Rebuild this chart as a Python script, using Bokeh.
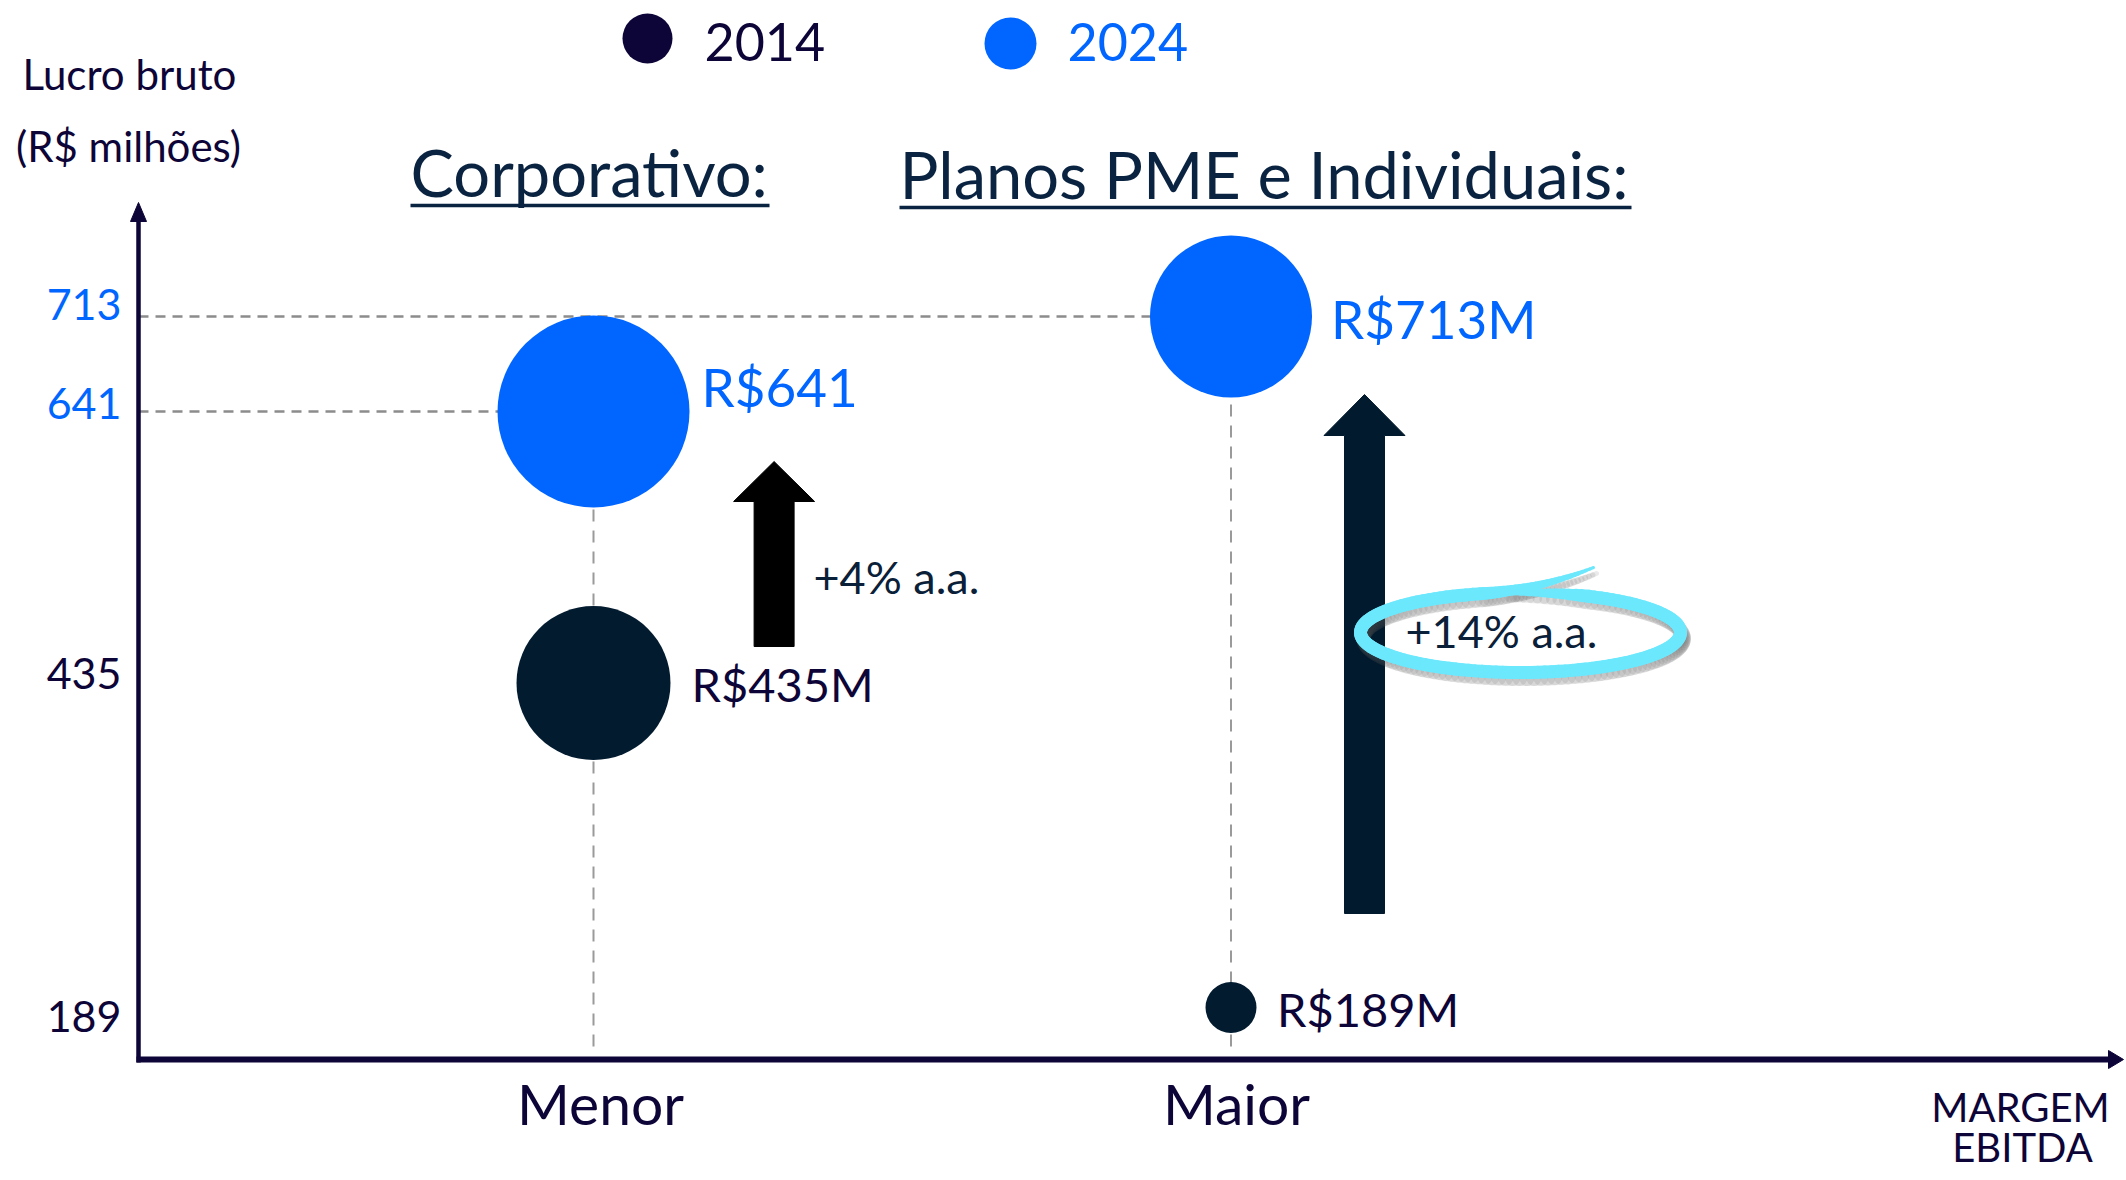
import numpy as np
from bokeh.plotting import figure
from bokeh.models import Range1d, Label
from bokeh.core.properties import value
from bokeh.embed import file_html
from bokeh.resources import INLINE

# ---------------- data ----------------
segments = ["Corporativo:", "Planos PME e Individuais:"]
margin_cats = ["Menor", "Maior"]
years = ["2014", "2024"]
lucro_2014 = [435, 189]
lucro_2024 = [641, 713]
labels_2014 = ["R$435M", "R$189M"]
labels_2024 = ["R$641", "R$713M"]
growth_labels = ["+4% a.a.", "+14% a.a."]
y_ticks = [713, 641, 435, 189]
y_tick_labels = ["713", "641", "435", "189"]
y_title = ["Lucro bruto", "(R$ milhões)"]
x_title = ["MARGEM", "EBITDA"]

# ---------------- styles ----------------
FONT = "Lato"
BLUE = "#0066ff"
NAVY = "#021b2f"
INDIGO = "#0d0538"
TITLE_C = "#0a2340"
CYAN = "#6ce8fd"
DASH_C = "#8c8c8c"
BL = 0.40  # baseline compensation (fraction of font size)
bubble_px_2014 = [154, 51]
bubble_px_2024 = [192, 162]
S14, S24, STICK = 47, 53, 43
lab14_xoff = [98, 46]
lab14_yoff = [20 - BL * S14, 20 - BL * S14]
lab24_xoff = [108, 100]
lab24_yoff = [-4 - BL * S24, 23 - BL * S24]
tick_colors = [BLUE, BLUE, INDIGO, INDIGO]
tick_yoff = [v - BL * STICK for v in (5, 9, 8, 26)]

W, H = 2124, 1178
K = 691 / 524          # px per R$ million
XU = 637.5             # px per category step
X_START, X_END = 1 - 593 / XU, 1 + (W - 593) / XU
Y_START, Y_END = 713 - (H - 316) / K, 713 + 316 / K


def X(px):
    return X_START + px / W * (X_END - X_START)


def Y(py):
    return Y_END - py / H * (Y_END - Y_START)


cat_x = [1, 2]

p = figure(width=W, height=H, x_range=Range1d(X_START, X_END), y_range=Range1d(Y_START, Y_END),
           output_backend="svg", toolbar_location=None, x_axis_location=None,
           y_axis_location=None, min_border=0, outline_line_color=None, title=None)
p.grid.visible = False
p.background_fill_color = "white"
p.border_fill_color = "white"

# ---------------- guide lines ----------------
axis_x = X(138)
axis_y = Y(1059)
p.segment(x0=[axis_x] * 2, y0=lucro_2024, x1=cat_x, y1=lucro_2024,
          line_color=DASH_C, line_width=2.6, line_dash="10 7")
p.segment(x0=cat_x, y0=[Y(1046)] * 2, x1=cat_x, y1=lucro_2024,
          line_color="#9a9a9a", line_width=2.0, line_dash="12 9")

# ---------------- axes ----------------
p.line([axis_x, axis_x], [Y(1062), Y(214)], line_color=INDIGO, line_width=4.5)
p.patch([X(130), X(138), X(146)], [Y(221), Y(202), Y(221)], color=INDIGO)
p.line([X(136), X(2110)], [axis_y, axis_y], line_color=INDIGO, line_width=6)
p.patch([X(2108), X(2123), X(2108)], [Y(1050), Y(1059), Y(1068)], color=INDIGO)


# ---------------- growth arrows ----------------
def arrow(cx, y_bot, y_base, y_tip, sw=20, hw=40.5):
    xs = [cx - sw, cx - sw, cx - hw, cx, cx + hw, cx + sw, cx + sw]
    ys = [y_bot, y_base, y_base, y_tip, y_base, y_base, y_bot]
    return [X(v) for v in xs], [Y(v) for v in ys]


ax1, ay1 = arrow(773.6, 646, 501, 461)
ax2, ay2 = arrow(1364, 913, 435, 394)
p.patch(ax1, ay1, color="#000000")
p.patch(ax2, ay2, color="#021a2e")

# ---------------- bubbles ----------------
p.scatter(x=cat_x, y=lucro_2014, size=bubble_px_2014, color=NAVY, line_color=None)
p.scatter(x=cat_x, y=lucro_2024, size=bubble_px_2024, color=BLUE, line_color=None)

# ---------------- data labels ----------------
p.text(x=cat_x, y=lucro_2014, text=labels_2014, x_offset=lab14_xoff, y_offset=lab14_yoff,
       text_font=value(FONT), text_font_size=f"{S14}px", text_color=INDIGO,
       text_align="left", text_baseline="alphabetic")
p.text(x=cat_x, y=lucro_2024, text=labels_2024, x_offset=lab24_xoff, y_offset=lab24_yoff,
       text_font=value(FONT), text_font_size=f"{S24}px", text_color=BLUE,
       text_align="left", text_baseline="alphabetic")

# ---------------- y ticks ----------------
p.text(x=[X(121)] * 4, y=y_ticks, text=y_tick_labels, y_offset=tick_yoff,
       text_font=value(FONT), text_font_size=f"{STICK}px", text_color=tick_colors,
       text_align="right", text_baseline="alphabetic")

# ---------------- x categories ----------------
SCAT = 57
p.text(x=[X(600), X(1236)], y=[Y(1125 - BL * SCAT)] * 2, text=margin_cats,
       text_font=value(FONT), text_font_size=f"{SCAT}px", text_color=INDIGO,
       text_align="center", text_baseline="alphabetic")


def label(txt, px, py, size, color, align="left"):
    p.add_layout(Label(x=X(px), y=Y(py - BL * size), text=txt, text_font=FONT,
                       text_font_size=f"{size}px", text_color=color, text_align=align,
                       text_baseline="alphabetic"))


label(x_title[0], 2020, 1122, 40, INDIGO, "center")
label(x_title[1], 2022, 1162, 40, INDIGO, "center")
label(y_title[0], 129, 90, 42, INDIGO, "center")
label(y_title[1], 128, 162, 42, INDIGO, "center")

# ---------------- segment titles ----------------
label(segments[0], 410, 197, 65, TITLE_C)
label(segments[1], 899, 199, 65, TITLE_C)
p.line([X(410), X(769)], [Y(205)] * 2, line_color=TITLE_C, line_width=3.5)
p.line([X(899), X(1631)], [Y(207)] * 2, line_color=TITLE_C, line_width=3.5)

# ---------------- legend ----------------
p.scatter(x=[X(647)], y=[Y(38)], size=50, color=INDIGO, line_color=None)
p.scatter(x=[X(1010)], y=[Y(43)], size=52, color=BLUE, line_color=None)
label(years[0], 704, 62, 52, INDIGO)
label(years[1], 1067, 62, 52, BLUE)

# ---------------- growth labels ----------------
label(growth_labels[0], 813, 594, 45, "#0a2038")

# hand drawn highlight ellipse around +14%
cx, cy, rx, ry = 1520, 632, 160, 40
th = np.radians(np.linspace(95, -255, 140))
ex = cx + rx * np.cos(th)
ey = cy - ry * np.sin(th)
t_last = th[-1]
d = np.array([np.sin(t_last) * rx, np.cos(t_last) * ry])
d = d / np.hypot(*d)
P0 = np.array([ex[-1], ey[-1]])
P2 = np.array([1593, 567])
P1 = P0 + d * 60
tt = np.linspace(0, 1, 30)[1:]
bx = (1 - tt) ** 2 * P0[0] + 2 * (1 - tt) * tt * P1[0] + tt ** 2 * P2[0]
by = (1 - tt) ** 2 * P0[1] + 2 * (1 - tt) * tt * P1[1] + tt ** 2 * P2[1]
px_all = np.concatenate([ex, bx])
py_all = np.concatenate([ey, by])
n = len(px_all) - 1
widths = np.full(n, 13.0)
widths[:12] = np.linspace(5, 13, 12)
widths[-29:] = np.linspace(13, 3, 29)
seg_x = [[X(px_all[i]), X(px_all[i + 1])] for i in range(n)]
seg_y = [[Y(py_all[i]), Y(py_all[i + 1])] for i in range(n)]
sh_x = [[X(px_all[i] + 3), X(px_all[i + 1] + 3)] for i in range(n)]
sh_y = [[Y(py_all[i] + 6), Y(py_all[i + 1] + 6)] for i in range(n)]
p.multi_line(sh_x, sh_y, line_color="#555555", line_alpha=0.12, line_width=list(widths + 2), line_cap="round")
p.multi_line(seg_x, seg_y, line_color=CYAN, line_width=list(widths), line_cap="round")

label(growth_labels[1], 1405, 648, 45, "#0a2038")

open("out.html", "w").write(file_html(p, INLINE))
